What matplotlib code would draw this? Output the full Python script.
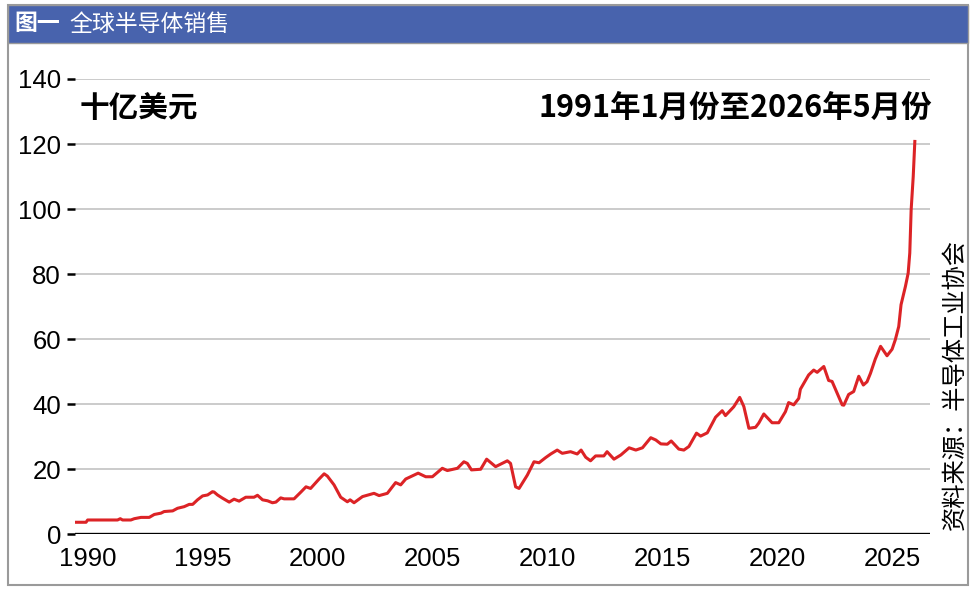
import matplotlib
matplotlib.use("Agg")
import matplotlib.pyplot as plt
from matplotlib.patches import Rectangle

# monthly sales, billions USD (x in axis years)
year = [1989.49, 1989.93, 1990.0, 1991.3, 1991.42, 1991.52, 1991.88, 1992.03,
        1992.32, 1992.68, 1992.90, 1993.19, 1993.33, 1993.70, 1993.91, 1994.2,
        1994.42, 1994.57, 1994.78, 1995.0, 1995.22, 1995.43, 1995.5, 1995.65,
        1995.87, 1996.16, 1996.37, 1996.59, 1996.88, 1997.24, 1997.39, 1997.61,
        1997.83, 1998.04, 1998.19, 1998.4, 1998.55, 1998.98, 1999.28, 1999.5,
        1999.7, 2000.07, 2000.29, 2000.43, 2000.72, 2001.01, 2001.3, 2001.42,
        2001.59, 2001.96, 2002.46, 2002.68, 2003.04, 2003.4, 2003.62, 2003.84,
        2004.2, 2004.38, 2004.71, 2005.0, 2005.43, 2005.65, 2006.09, 2006.37,
        2006.52, 2006.7, 2007.1, 2007.36, 2007.75, 2008.26, 2008.4, 2008.62,
        2008.77, 2009.13, 2009.42, 2009.64, 2009.93, 2010.15, 2010.43, 2010.65,
        2011.01, 2011.3, 2011.47, 2011.67, 2011.88, 2012.1, 2012.46, 2012.6,
        2012.9, 2013.2, 2013.56, 2013.85, 2014.14, 2014.5, 2014.72, 2014.94,
        2015.22, 2015.39, 2015.72, 2015.94, 2016.16, 2016.49, 2016.67, 2016.96,
        2017.32, 2017.61, 2017.75, 2018.11, 2018.37, 2018.55, 2018.77, 2019.06,
        2019.2, 2019.42, 2019.78, 2020.07, 2020.36, 2020.5, 2020.72, 2020.94,
        2021.01, 2021.37, 2021.59, 2021.74, 2022.03, 2022.24, 2022.39, 2022.83,
        2022.9, 2023.11, 2023.33, 2023.55, 2023.75, 2023.91, 2024.06, 2024.27,
        2024.5, 2024.78, 2025.0, 2025.14, 2025.29, 2025.39, 2025.58, 2025.7,
        2025.77, 2025.83, 2025.92, 2025.99]
sales = [3.7, 3.7, 4.4, 4.4, 4.8, 4.4, 4.4, 4.8,
         5.2, 5.2, 6.1, 6.5, 7.0, 7.2, 8.0, 8.5,
         9.2, 9.2, 10.6, 11.8, 12.1, 13.1, 13.0, 12.1,
         11.1, 9.9, 10.8, 10.2, 11.4, 11.4, 12.0, 10.6,
         10.3, 9.7, 9.9, 11.2, 10.9, 10.9, 13.0, 14.6,
         14.1, 17.0, 18.6, 17.9, 15.2, 11.4, 10.0, 10.6,
         9.7, 11.6, 12.6, 11.9, 12.6, 15.9, 15.2, 17.0,
         18.2, 18.8, 17.7, 17.7, 20.3, 19.6, 20.3, 22.3,
         21.8, 19.8, 20.0, 23.1, 20.8, 22.6, 21.8, 14.6,
         14.1, 18.2, 22.3, 22.0, 23.6, 24.7, 25.9, 24.9,
         25.4, 24.7, 25.9, 23.7, 22.6, 24.1, 24.1, 25.4,
         23.1, 24.4, 26.6, 25.9, 26.6, 29.7, 29.0, 27.8,
         27.7, 28.7, 26.2, 25.9, 27.0, 31.1, 30.2, 31.2,
         36.0, 38.0, 36.5, 39.2, 42.1, 39.3, 32.6, 32.9,
         34.2, 37.0, 34.3, 34.3, 37.7, 40.5, 39.8, 41.8,
         44.6, 49.0, 50.5, 49.8, 51.6, 47.3, 47.0, 39.8,
         39.7, 43.0, 43.9, 48.6, 45.9, 46.9, 49.5, 53.9,
         57.8, 54.9, 56.9, 59.8, 63.9, 70.6, 76.2, 80.3,
         86.5, 99.8, 110.0, 120.8]

x_ticks = [1990, 1995, 2000, 2005, 2010, 2015, 2020, 2025]
y_ticks = [0, 20, 40, 60, 80, 100, 120, 140]

title = "全球半导体销售"
unit_label = "十亿美元"
period_label = "1991年1月份至2026年5月份"
source_label = "资料来源：半导体工业协会"

cjk = ["Noto Sans CJK SC", "DejaVu Sans"]
latin = ["Liberation Sans", "DejaVu Sans"]

W, H = 975, 590
fig = plt.figure(figsize=(W / 100, H / 100), dpi=100)

# outer frame and title bar
fig.patches.append(Rectangle((8 / W, 1 - 585 / H), 960 / W, 580 / H,
                             transform=fig.transFigure, facecolor="none",
                             edgecolor="#9a9a9a", linewidth=1.5, zorder=-1))
fig.patches.append(Rectangle((8 / W, 1 - 43 / H), 960 / W, 38 / H,
                             transform=fig.transFigure, facecolor="#4863ad",
                             edgecolor="#9a9a9a", linewidth=1.0, zorder=-1))
fig.text(14 / W, 1 - 24 / H, "图一", color="white", fontsize=16.5,
         fontweight="bold", family=cjk, va="center", ha="left")
fig.text(69 / W, 1 - 24 / H, title, color="white", fontsize=16.5,
         family=cjk, va="center", ha="left")

ax = fig.add_axes([75 / W, 1 - 534.3 / H, 855 / W, (534.3 - 79) / H])
ax.patch.set_alpha(0)
ax.plot(year, sales, color="#dc2326", linewidth=2.2, zorder=3)
ax.axhline(0, color="black", linewidth=2.4, zorder=4)

ax.set_xlim(1989.45, 2026.65)
ax.set_ylim(0, 140)
ax.set_yticks(y_ticks)
ax.set_xticks(x_ticks)
ax.set_xticklabels([str(v) for v in x_ticks])
for s in ax.spines.values():
    s.set_visible(False)
ax.grid(axis="y", color="#bdbdbd", linewidth=1.1)
ax.set_axisbelow(True)
ax.tick_params(axis="y", length=6, width=1.8, color="black", pad=4,
               labelsize=18.5)
ax.tick_params(axis="x", length=0, pad=9, labelsize=18.5)
for lab in ax.get_xticklabels() + ax.get_yticklabels():
    lab.set_family(latin)

ax.text(80 / W, 1 - 108 / H, unit_label, transform=fig.transFigure,
        fontsize=21.3, fontweight="bold", family=cjk, va="center", ha="left")
ax.text(932 / W, 1 - 108 / H, period_label, transform=fig.transFigure,
        fontsize=22, fontweight="bold", family=cjk, va="center", ha="right")
fig.text(955 / W, 1 - 530 / H, source_label, rotation=90, fontsize=17.5,
         family=cjk, va="bottom", ha="center")

fig.savefig("out.png", dpi=100)
